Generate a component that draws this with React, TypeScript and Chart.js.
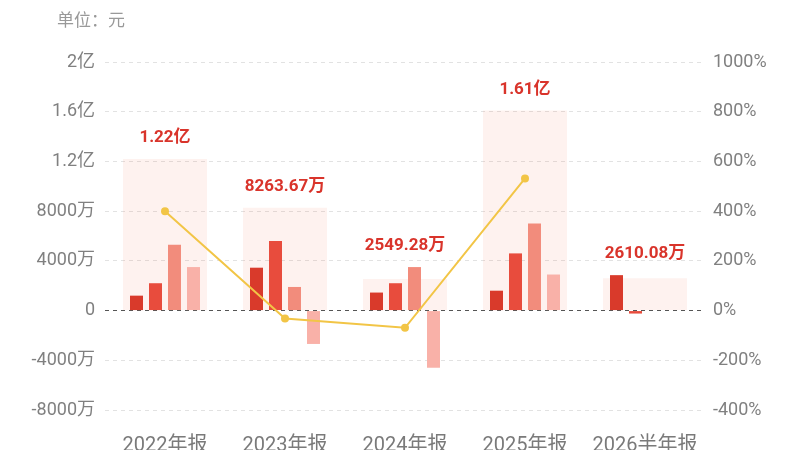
import React, { useEffect, useRef } from "react";
import { Chart, registerables } from "chart.js";

Chart.register(...registerables);

const categories = ["2022年报", "2023年报", "2024年报", "2025年报", "2026半年报"];
// values in 万元
const totals = [12200, 8263.67, 2549.28, 16100, 2610.08];
const q1 = [1200, 3450, 1450, 1600, 2850];
const q2 = [2200, 5600, 2200, 4600, -240];
const q3 = [5300, 1900, 3500, 7000, null];
const q4 = [3500, -2686, -4600, 2900, null];
const growth = [400, -32.27, -69.15, 531.55, null];

const FONT = 'Roboto, "Noto Sans CJK SC", sans-serif';

function fmtAmount(v: number): string {
  if (v === 0) return "0";
  if (Math.abs(v) >= 10000) return `${+(v / 10000).toFixed(2)}亿`;
  return `${v}万`;
}
function fmtTotal(v: number): string {
  if (Math.abs(v) >= 10000) return `${(v / 10000).toFixed(2)}亿`;
  return `${v.toFixed(2)}万`;
}

const overlayPlugin = {
  id: "overlay",
  afterDatasetsDraw(chart: any) {
    const { ctx } = chart;
    const x = chart.scales.x;
    const y = chart.scales.y;
    ctx.save();
    ctx.font = `17px ${FONT}`;
    ctx.fillStyle = "#999999";
    ctx.textAlign = "left";
    ctx.textBaseline = "middle";
    ctx.fillText("单位：元", 57, 22);

    ctx.font = `bold 17px ${FONT}`;
    ctx.fillStyle = "#d9342b";
    ctx.textAlign = "center";
    totals.forEach((t, i) => {
      const qs = [q1[i], q2[i], q3[i], q4[i]].filter((v) => v !== null) as number[];
      const top = Math.max(t, ...qs);
      const px = x.getPixelForValue(i);
      const py = y.getPixelForValue(top) - 21;
      ctx.fillText(fmtTotal(t), px, py);
    });
    ctx.restore();
  },
};

export default function App() {
  const ref = useRef<HTMLCanvasElement | null>(null);
  useEffect(() => {
    if (!ref.current) return;
    const qOpts = { categoryPercentage: 0.633, barPercentage: 0.684, order: 1, yAxisID: "y" };
    const chart = new Chart(ref.current, {
      type: "bar",
      data: {
        labels: categories,
        datasets: [
          {
            type: "line",
            data: growth,
            yAxisID: "y1",
            borderColor: "#f2c546",
            backgroundColor: "#f2c546",
            borderWidth: 2,
            pointRadius: 4,
            pointHoverRadius: 4,
            pointBorderWidth: 0,
            order: 0,
          } as any,
          { data: q1, backgroundColor: "#d93a2b", ...qOpts } as any,
          { data: q2, backgroundColor: "#e84c3d", ...qOpts } as any,
          { data: q3, backgroundColor: "#f28c7c", ...qOpts } as any,
          { data: q4, backgroundColor: "#f9b1a8", ...qOpts } as any,
          {
            data: totals,
            backgroundColor: "rgba(245,110,80,0.09)",
            grouped: false,
            categoryPercentage: 1,
            barPercentage: 0.7,
            order: 2,
            yAxisID: "y",
          } as any,
        ],
      },
      options: {
        animation: false,
        responsive: false,
        layout: { padding: { top: 62, left: 0, right: 0, bottom: 0 } },
        plugins: { legend: { display: false }, tooltip: { enabled: false }, title: { display: false } },
        scales: {
          x: {
            grid: { display: false, drawTicks: false },
            border: { display: false },
            ticks: { color: "#7a7a7a", font: { size: 20, family: FONT }, padding: 24, maxRotation: 0, autoSkip: false },
            afterFit: (s: any) => {
              s.height = 40;
            },
          },
          y: {
            position: "left",
            min: -8000,
            max: 20000,
            grid: {
              drawTicks: false,
              color: (c: any) => (c.tick && c.tick.value === 0 ? "#555555" : "#e2e2e2"),
              lineWidth: 1,
            },
            border: { display: false, dash: [4, 4] },
            ticks: {
              stepSize: 4000,
              color: "#808080",
              font: { size: 18, family: FONT },
              padding: 10,
              callback: (v: any) => fmtAmount(Number(v)),
            },
            afterFit: (s: any) => {
              s.width = 105;
            },
          },
          y1: {
            position: "right",
            min: -400,
            max: 1000,
            grid: { display: false, drawTicks: false },
            border: { display: false },
            ticks: {
              stepSize: 200,
              color: "#808080",
              font: { size: 18, family: FONT },
              padding: 8,
              callback: (v: any) => `${v}%`,
            },
            afterFit: (s: any) => {
              s.width = 95;
            },
          },
        },
      },
      plugins: [overlayPlugin],
    });
    return () => chart.destroy();
  }, []);
  return (
    <div style={{ position: "fixed", left: 0, top: 0, width: 800, height: 450, background: "#fff" }}>
      <canvas ref={ref} width={800} height={450} style={{ width: 800, height: 450, display: "block" }} />
    </div>
  );
}
